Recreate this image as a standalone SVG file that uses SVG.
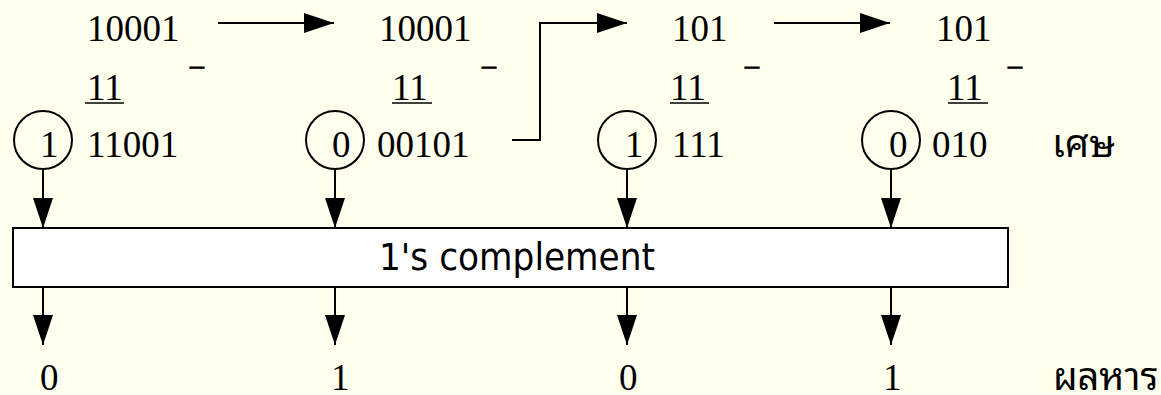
<svg xmlns="http://www.w3.org/2000/svg" width="1161" height="395" viewBox="0 0 1161 395">
<style>
.t{font-family:"Liberation Serif","Times New Roman",serif;font-size:37px;fill:#000}
.th{font-family:"Noto Sans Thai Looped","Noto Serif Thai","Noto Sans Thai",Tahoma,sans-serif;font-size:38px;fill:#000}
.m{font-family:"Liberation Serif",serif;font-size:28px;fill:#000;stroke:#000;stroke-width:0.9}
.s{font-family:"DejaVu Sans",Verdana,sans-serif;font-size:37px;fill:#000}
.ln{stroke:#000;stroke-width:2;fill:none}
.c{stroke:#000;stroke-width:2;fill:none}
.u{stroke:#000;stroke-width:1.5}
</style>
<defs>
<marker id="ah" markerWidth="30" markerHeight="20" refX="30" refY="10" orient="auto" markerUnits="userSpaceOnUse">
<path d="M0,0 L30,10 L0,20 Z" fill="#000"/>
</marker>
</defs>
<rect width="1161" height="395" fill="#FFFFEE"/>
<g id="step1">
<text class="t" x="87" y="41">10001</text>
<text class="t" x="87" y="100">11</text>
<line class="u" x1="85" y1="103" x2="124" y2="103"/>
<text class="m" x="190" y="74">–</text>
<circle class="c" cx="43" cy="140" r="29"/>
<text class="t" x="40" y="157">1</text>
<text class="t" x="87" y="157">11001</text>
</g>
<g id="step2">
<text class="t" x="379" y="41">10001</text>
<text class="t" x="392" y="100">11</text>
<line class="u" x1="392" y1="103" x2="432" y2="103"/>
<text class="m" x="482" y="74">–</text>
<circle class="c" cx="335" cy="140" r="29"/>
<text class="t" x="332" y="157">0</text>
<text class="t" x="377" y="157">00101</text>
</g>
<g id="step3">
<text class="t" x="672" y="41">101</text>
<text class="t" x="670" y="100">11</text>
<line class="u" x1="670" y1="103" x2="709" y2="103"/>
<text class="m" x="745" y="74">–</text>
<circle class="c" cx="627" cy="140" r="29"/>
<text class="t" x="625" y="157">1</text>
<text class="t" x="672" y="157">111</text>
</g>
<g id="step4">
<text class="t" x="936" y="41">101</text>
<text class="t" x="947" y="100">11</text>
<line class="u" x1="948" y1="103" x2="988" y2="103"/>
<text class="m" x="1008" y="74">–</text>
<circle class="c" cx="891" cy="140" r="29"/>
<text class="t" x="889" y="157">0</text>
<text class="t" x="932" y="157">010</text>
<text class="th" x="1052" y="157">เศษ</text>
</g>
<g id="complement">
<rect x="13" y="228" width="995" height="59" fill="#FFFFFF" stroke="#000" stroke-width="2"/>
<text class="s" x="379" y="270" textLength="276" lengthAdjust="spacingAndGlyphs">1's complement</text>
</g>
<g id="quotient">
<text class="t" x="40" y="390">0</text>
<text class="t" x="331" y="390">1</text>
<text class="t" x="619" y="390">0</text>
<text class="t" x="883" y="390">1</text>
<text class="th" x="1053" y="390">ผลหาร</text>
</g>
<g id="connectors">
<line class="ln" x1="218" y1="23" x2="334" y2="23" marker-end="url(#ah)"/>
<polyline class="ln" points="512,140 540,140 540,23 627,23" marker-end="url(#ah)"/>
<line class="ln" x1="774" y1="23" x2="890" y2="23" marker-end="url(#ah)"/>
<line class="ln" x1="43" y1="169" x2="43" y2="228" marker-end="url(#ah)"/>
<line class="ln" x1="335" y1="169" x2="335" y2="228" marker-end="url(#ah)"/>
<line class="ln" x1="627" y1="169" x2="627" y2="228" marker-end="url(#ah)"/>
<line class="ln" x1="891" y1="169" x2="891" y2="228" marker-end="url(#ah)"/>
<line class="ln" x1="43" y1="287" x2="43" y2="345" marker-end="url(#ah)"/>
<line class="ln" x1="335" y1="287" x2="335" y2="345" marker-end="url(#ah)"/>
<line class="ln" x1="627" y1="287" x2="627" y2="345" marker-end="url(#ah)"/>
<line class="ln" x1="891" y1="287" x2="891" y2="345" marker-end="url(#ah)"/>
</g>
</svg>
